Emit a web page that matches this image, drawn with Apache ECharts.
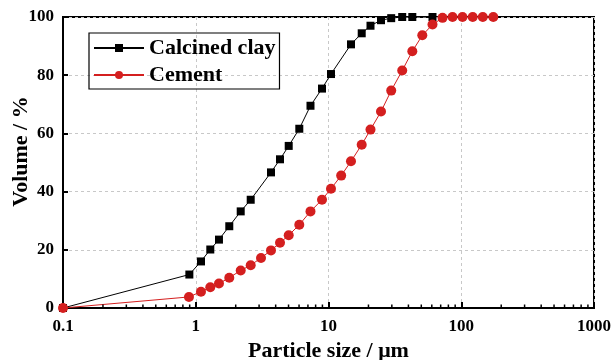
<!DOCTYPE html>
<html>
<head>
<meta charset="utf-8">
<script src="https://cdn.jsdelivr.net/npm/echarts@6/dist/echarts.min.js"></script>
<style>
html,body{margin:0;padding:0;background:#fff;}
#chart{width:612px;height:360px;}
</style>
</head>
<body>
<div id="chart"></div>
<script>
// Particle size (µm) and cumulative volume (%)
var clayX = [0.1, 0.895, 1.095, 1.287, 1.496, 1.789, 2.181, 2.594, 3.688, 4.312, 5.015, 6.026, 7.317, 8.934, 10.44, 14.77, 17.79, 20.72, 24.86, 29.67, 35.91, 42.79, 60.73];
var clayY = [0, 11.5, 16.0, 20.1, 23.5, 28.1, 33.2, 37.2, 46.6, 51.1, 55.7, 61.6, 69.5, 75.4, 80.4, 90.6, 94.4, 97.0, 98.9, 99.6, 100, 100, 100];
var cementX = [0.1, 0.889, 1.095, 1.287, 1.496, 1.789, 2.181, 2.594, 3.101, 3.688, 4.312, 5.015, 6.026, 7.317, 8.934, 10.44, 12.46, 14.77, 17.79, 20.72, 24.86, 29.67, 35.91, 42.79, 50.89, 60.73, 72.25, 85.96, 102.2, 122.0, 145.3, 174.3];
var cementY = [0, 3.8, 5.6, 7.1, 8.4, 10.4, 12.9, 14.7, 17.2, 19.8, 22.4, 25.0, 28.6, 33.2, 37.2, 41.0, 45.5, 50.4, 56.1, 61.3, 67.5, 74.7, 81.6, 88.2, 93.7, 97.4, 99.7, 100, 100, 100, 100, 100];
var seriesNames = ['Calcined clay', 'Cement'];
var xTickLabels = [0.1, 1, 10, 100, 1000];
var yTicks = [0, 20, 40, 60, 80, 100];
var minorTickValues = [0.2,0.3,0.4,0.5,0.6,0.7,0.8,0.9,2,3,4,5,6,7,8,9,20,30,40,50,60,70,80,90,200,300,400,500,600,700,800,900];

function zip(xs, ys){ return xs.map(function(x,i){ return [x, ys[i]]; }); }

var font = 'Liberation Serif';
var chart = echarts.init(document.getElementById('chart'));
chart.setOption({
  animation: false,
  backgroundColor: '#fff',
  grid: { left: 63, right: 18, top: 17, bottom: 52, show: true, borderColor: '#000', borderWidth: 2, containLabel: false, outerBoundsMode: 'none' },
  legend: {
    data: seriesNames,
    orient: 'vertical',
    left: 89, top: 33,
    itemWidth: 50, itemHeight: 10, itemGap: 5,
    padding: [4, 4, 3, 4],
    borderColor: '#000', borderWidth: 1.2,
    textStyle: { fontFamily: font, fontWeight: 'bold', fontSize: 22, color: '#000' }
  },
  xAxis: {
    type: 'log', logBase: 10, min: 0.1, max: 1000,
    name: 'Particle size / \u03bcm', nameLocation: 'middle', nameGap: 32, nameMoveOverlap: false,
    nameTextStyle: { fontFamily: font, fontWeight: 'bold', fontSize: 22, color: '#000' },
    axisLine: { lineStyle: { color: '#000', width: 2 } },
    axisTick: { inside: true, length: 6, lineStyle: { color: '#000', width: 2 } },
    axisLabel: { fontFamily: font, fontWeight: 'bold', fontSize: 17, color: '#000', margin: 10,
      formatter: function(v){ var s = String(+v.toPrecision(6)); return xTickLabels.indexOf(+s) >= 0 ? s : ''; } },
    splitLine: { show: true, lineStyle: { color: '#c8c8c8', type: [3, 3], width: 1 } }
  },
  yAxis: {
    type: 'value', min: 0, max: 100, interval: 20,
    name: 'Volume / %', nameLocation: 'middle', nameGap: 31, nameMoveOverlap: false,
    nameTextStyle: { fontFamily: font, fontWeight: 'bold', fontSize: 22, color: '#000', padding: [0, 0, 0, 22] },
    axisLine: { lineStyle: { color: '#000', width: 2 } },
    axisTick: { inside: true, length: 5, lineStyle: { color: '#000', width: 2 } },
    axisLabel: { fontFamily: font, fontWeight: 'bold', fontSize: 17, color: '#000', margin: 9 },
    splitLine: { show: true, lineStyle: { color: '#c8c8c8', type: [3, 3], width: 1 } }
  },
  series: [
    {
      name: seriesNames[0], type: 'line', data: zip(clayX, clayY),
      symbol: 'rect', symbolSize: 8,
      itemStyle: { color: '#000' }, lineStyle: { color: '#000', width: 1 }, z: 3
    },
    {
      name: seriesNames[1], type: 'line', data: zip(cementX, cementY),
      symbol: 'circle', symbolSize: 10,
      itemStyle: { color: '#d41f1f' }, lineStyle: { color: '#d41f1f', width: 1 }, z: 4
    },
    {
      name: 'minorTicks', type: 'custom', data: minorTickValues.map(function(v){ return [v, 0]; }),
      silent: true, clip: false, z: 5,
      renderItem: function(params, api){
        var p = api.coord([api.value(0), 0]);
        return { type: 'line', shape: { x1: p[0], y1: p[1], x2: p[0], y2: p[1] - 3.5 },
          style: { stroke: '#000', lineWidth: 1.5 } };
      }
    }
  ]
});
</script>
</body>
</html>
